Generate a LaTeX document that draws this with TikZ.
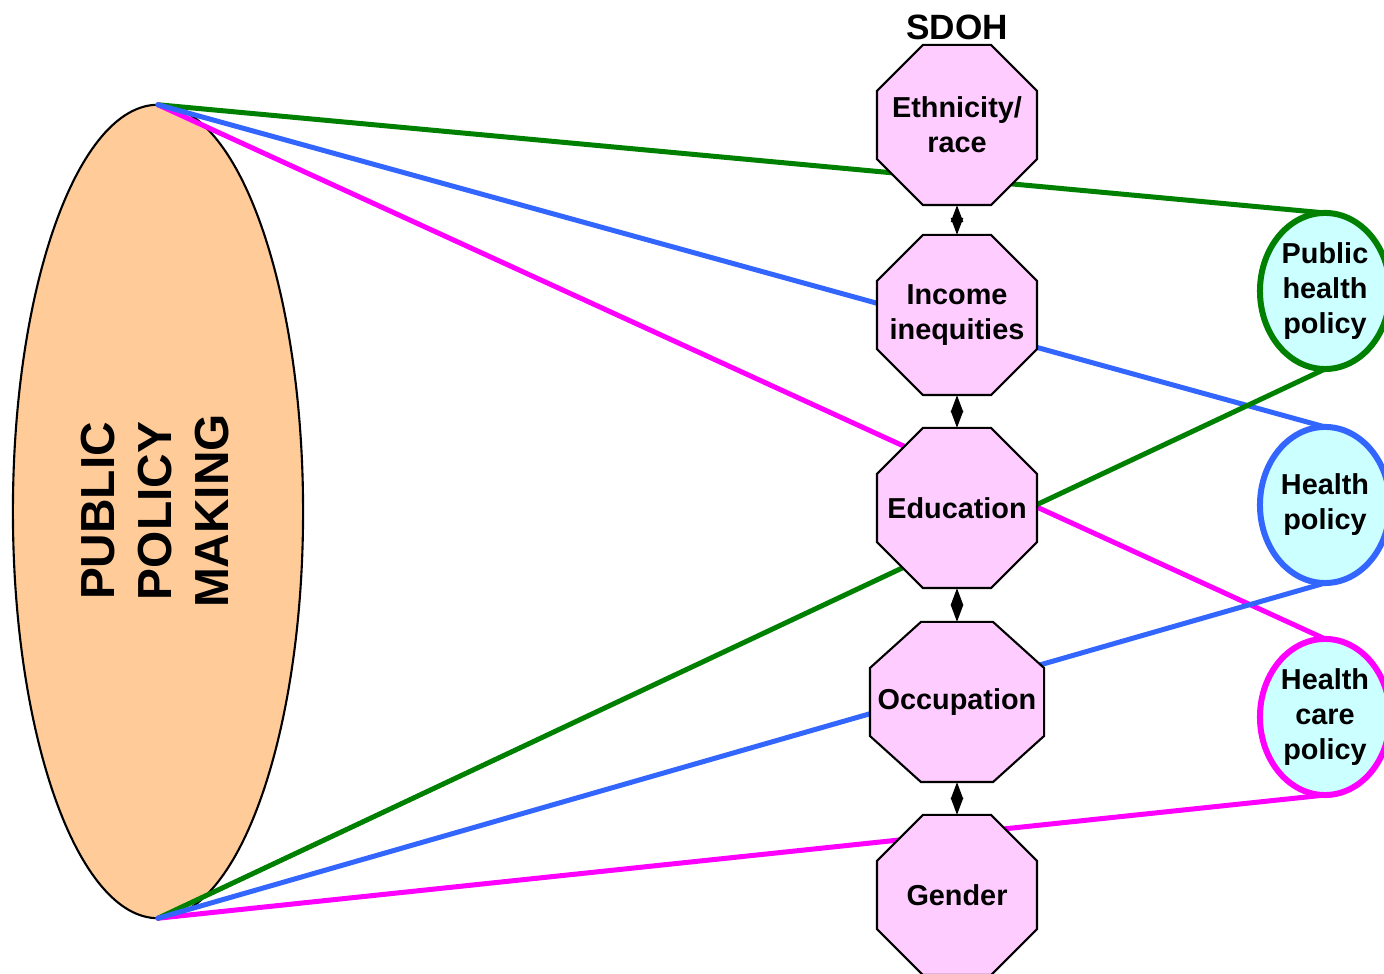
\documentclass[tikz,border=0pt]{standalone}
\usepackage{fontspec}
\setmainfont{Liberation Sans}
\usetikzlibrary{shapes.geometric,arrows.meta}
\pgfdeclarelayer{back}
\pgfdeclarelayer{mid}
\pgfsetlayers{back,mid,main}
\definecolor{pgreen}{RGB}{0,128,0}
\definecolor{pblue}{RGB}{51,102,255}
\definecolor{pmag}{RGB}{255,0,255}
\definecolor{cyanfill}{RGB}{204,255,255}
\definecolor{pinkfill}{RGB}{255,204,255}
\definecolor{peach}{RGB}{255,204,153}
\tikzset{
  lbl/.style={font=\fontsize{8.2}{9.96}\selectfont\bfseries, align=center},
  octo/.style={rectangle, draw=none, minimum width=1.6cm, minimum height=1.6cm, inner sep=0pt, outer sep=0pt, lbl},
  pol/.style={ellipse, fill=cyanfill, line width=0.06cm, minimum width=1.3cm, minimum height=1.56cm, inner sep=0pt, outer sep=0pt, lbl},
  link/.style={line width=0.05cm, line cap=round},
  dbl/.style={{Triangle[length=0.17cm,width=0.12cm]}-{Triangle[length=0.17cm,width=0.12cm]}, line width=0.6pt},
  octline/.style={fill=pinkfill, draw=black, line width=0.6pt, line join=miter}
}
\newcommand{\octpath}[3]{%
  \path[octline] ([xshift=#2]#1.north west) -- ([xshift=-#2]#1.north east) -- ([yshift=-#3]#1.north east) -- ([yshift=#3]#1.south east) -- ([xshift=-#2]#1.south east) -- ([xshift=#2]#1.south west) -- ([yshift=#3]#1.south west) -- ([yshift=-#3]#1.north west) -- cycle;}
\begin{document}
\begin{tikzpicture}[x=0.01cm, y=-0.01cm]
\useasboundingbox (0,0) rectangle (1384,974);

% big ellipse
\begin{pgfonlayer}{back}
\node[ellipse, draw=black, fill=peach, line width=0.6pt, minimum width=2.9cm, minimum height=8.13cm, inner sep=0pt, outer sep=0pt] (ppm) at (158,511.5) {};
\end{pgfonlayer}
\node[rotate=90, font=\fontsize{13.6}{16.2}\selectfont\bfseries, align=center] (ppmtxt) at (155,511) {PUBLIC\\POLICY\\MAKING};

% SDOH title
\node[font=\fontsize{10}{12}\selectfont\bfseries] (sdoh) at (957,27) {SDOH};

% octagon nodes
\node[octo] (eth) at (957,125) {Ethnicity/\\race};
\node[octo] (inc) at (957,315) {Income\\inequities};
\node[octo] (edu) at (957,508) {Education};
\node[octo, minimum width=1.74cm] (occ) at (957,702) {Occupation};
\node[octo] (gen) at (957,895) {Gender};

% policy circles
\node[pol, draw=pgreen] (ph) at (1325,291) {Public\\health\\policy};
\node[pol, draw=pblue] (hp) at (1325,505) {Health\\policy};
\node[pol, draw=pmag] (hc) at (1325,717) {Health\\care\\policy};

% connectors (behind octagons)
\begin{pgfonlayer}{back}
\draw[link, pgreen] (ppm.north) -- (ph.north);
\draw[link, pmag] (ppm.north) -- (hc.north);
\draw[link, pblue] (ppm.north) -- (hp.north);
\draw[link, pgreen] (ppm.south) -- (ph.south);
\draw[link, pmag] (ppm.south) -- (hc.south);
\draw[link, pblue] (ppm.south) -- (hp.south);
\end{pgfonlayer}

% octagon outlines
\begin{pgfonlayer}{mid}
\octpath{eth}{0.46cm}{0.46cm}
\octpath{inc}{0.46cm}{0.46cm}
\octpath{edu}{0.46cm}{0.46cm}
\octpath{occ}{0.51cm}{0.46cm}
\octpath{gen}{0.46cm}{0.46cm}
\end{pgfonlayer}

% double arrows between SDOH
\draw[dbl] (eth.south) -- (inc.north);
\draw[dbl] (inc.south) -- (edu.north);
\draw[dbl] (edu.south) -- (occ.north);
\draw[dbl] (occ.south) -- (gen.north);
\end{tikzpicture}
\end{document}
